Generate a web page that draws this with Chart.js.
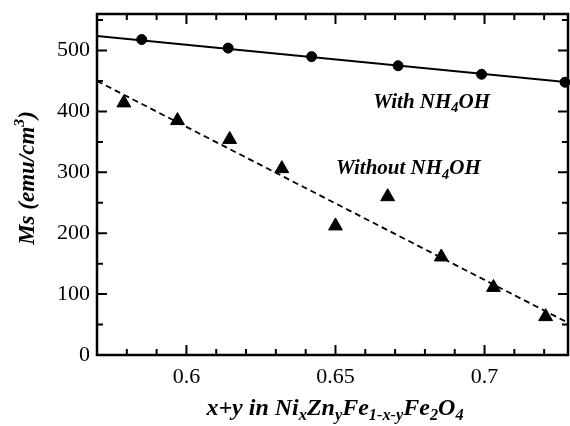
<!DOCTYPE html>
<html>
<head>
<meta charset="utf-8">
<script src="https://cdn.jsdelivr.net/npm/chart.js@4.4.0/dist/chart.umd.min.js"></script>
<style>
  html, body { margin: 0; padding: 0; background: #fff; }
  #wrap { width: 570px; height: 426px; }
</style>
</head>
<body>
<div id="wrap"><canvas id="myChart" width="570" height="426"></canvas></div>
<script>
// data
const withX = [0.585, 0.614, 0.642, 0.671, 0.699, 0.727];
const withY = [518, 504, 490, 475, 461, 448];
const withoutX = [0.579, 0.597, 0.6145, 0.632, 0.650, 0.6675, 0.6855, 0.703, 0.7205];
const withoutY = [414, 385, 354, 306, 212, 260, 161, 111, 63];
// fitted lines (end points)
const withFitX = [0.57, 0.728];
const withFitY = [524, 448];
const withoutFitX = [0.57, 0.728];
const withoutFitY = [450, 53];
// axes
const xTicks = [0.6, 0.65, 0.7];
const yTicks = [0, 100, 200, 300, 400, 500];

const SERIF = "'Liberation Serif', 'Times New Roman', serif";

function pts(xs, ys) {
  return xs.map((x, i) => ({ x: x, y: ys[i] }));
}

// draw text made of pieces, some of them sub/superscript
function richText(ctx, parts, x, y, size, align) {
  let total = 0;
  parts.forEach(p => {
    const s = p.sub || p.sup ? size * 0.68 : size;
    ctx.font = 'italic bold ' + s + 'px ' + SERIF;
    p.w = ctx.measureText(p.t).width;
    total += p.w;
  });
  let cx = align === 'center' ? x - total / 2 : x;
  parts.forEach(p => {
    const s = p.sub || p.sup ? size * 0.68 : size;
    ctx.font = 'italic bold ' + s + 'px ' + SERIF;
    let dy = 0;
    if (p.sub) dy = size * 0.22;
    if (p.sup) dy = -size * 0.42;
    ctx.fillText(p.t, cx, y + dy);
    cx += p.w;
  });
}

const framePlugin = {
  id: 'frame',
  afterDraw(chart) {
    const ctx = chart.ctx;
    const a = chart.chartArea;
    const xs = chart.scales.x, ys = chart.scales.y;
    ctx.save();
    ctx.strokeStyle = '#000';
    ctx.lineWidth = 2.5;
    ctx.strokeRect(a.left, a.top, a.right - a.left, a.bottom - a.top);

    ctx.lineWidth = 2;
    ctx.beginPath();
    for (let i = 58; i <= 72; i++) {
      const v = i / 100;
      const px = xs.getPixelForValue(v);
      const len = (i % 5 === 0) ? 10 : 6;
      ctx.moveTo(px, a.bottom); ctx.lineTo(px, a.bottom - len);
      ctx.moveTo(px, a.top); ctx.lineTo(px, a.top + len);
    }
    for (let v = 50; v <= 550; v += 50) {
      const py = ys.getPixelForValue(v);
      const len = (v % 100 === 0) ? 10 : 6;
      ctx.moveTo(a.left, py); ctx.lineTo(a.left + len, py);
      ctx.moveTo(a.right, py); ctx.lineTo(a.right - len, py);
    }
    ctx.stroke();

    // labels on the plot
    ctx.fillStyle = '#000';
    ctx.textBaseline = 'alphabetic';
    ctx.textAlign = 'left';
    richText(ctx, [{ t: 'With NH' }, { t: '4', sub: true }, { t: 'OH' }],
      xs.getPixelForValue(0.6627), ys.getPixelForValue(406), 21, 'left');
    richText(ctx, [{ t: 'Without NH' }, { t: '4', sub: true }, { t: 'OH' }],
      xs.getPixelForValue(0.6502), ys.getPixelForValue(297), 21, 'left');

    // x axis title
    richText(ctx, [
      { t: 'x+y in Ni' }, { t: 'x', sub: true }, { t: 'Zn' }, { t: 'y', sub: true },
      { t: 'Fe' }, { t: '1-x-y', sub: true }, { t: 'Fe' }, { t: '2', sub: true },
      { t: 'O' }, { t: '4', sub: true }
    ], 335, 415, 24, 'center');

    // y axis title
    ctx.translate(34, 178);
    ctx.rotate(-Math.PI / 2);
    richText(ctx, [{ t: 'Ms (emu/cm' }, { t: '3', sup: true }, { t: ')' }], 0, 0, 23, 'center');
    ctx.restore();
  }
};

var ctx = document.getElementById('myChart').getContext('2d');

var myChart = new Chart(ctx, {
  type: 'scatter',
  data: {
    datasets: [
      {
        label: 'With NH4OH',
        data: pts(withX, withY),
        pointStyle: 'circle',
        pointRadius: 5,
        backgroundColor: '#000',
        borderColor: '#000',
        clip: false
      },
      {
        label: 'Without NH4OH',
        data: pts(withoutX, withoutY),
        pointStyle: 'triangle',
        pointRadius: 8,
        backgroundColor: '#000',
        borderColor: '#000',
        clip: false
      },
      {
        label: 'fit with',
        data: pts(withFitX, withFitY),
        showLine: true,
        pointRadius: 0,
        borderColor: '#000',
        borderWidth: 2
      },
      {
        label: 'fit without',
        data: pts(withoutFitX, withoutFitY),
        showLine: true,
        pointRadius: 0,
        borderColor: '#000',
        borderWidth: 1.8,
        borderDash: [6, 4]
      }
    ]
  },
  options: {
    responsive: false,
    animation: false,
    layout: { autoPadding: false, padding: { left: 0, right: 2, top: 14, bottom: 0 } },
    plugins: {
      legend: { display: false },
      tooltip: { enabled: false }
    },
    scales: {
      x: {
        type: 'linear',
        min: 0.57,
        max: 0.728,
        grid: { display: false, drawTicks: false },
        border: { display: false },
        afterBuildTicks: s => { s.ticks = xTicks.map(v => ({ value: v })); },
        afterFit: s => { s.height = 71; s.paddingLeft = 0; s.paddingRight = 0; },
        ticks: {
          padding: 9,
          color: '#000',
          font: { family: SERIF, size: 22 },
          callback: v => String(v)
        }
      },
      y: {
        min: 0,
        max: 560,
        grid: { display: false, drawTicks: false },
        border: { display: false },
        afterBuildTicks: s => { s.ticks = yTicks.map(v => ({ value: v })); },
        afterFit: s => { s.width = 97; s.paddingTop = 0; s.paddingBottom = 0; },
        ticks: {
          padding: 7,
          color: '#000',
          font: { family: SERIF, size: 22 },
          callback: v => String(v)
        }
      }
    }
  },
  plugins: [framePlugin]
});
</script>
</body>
</html>
